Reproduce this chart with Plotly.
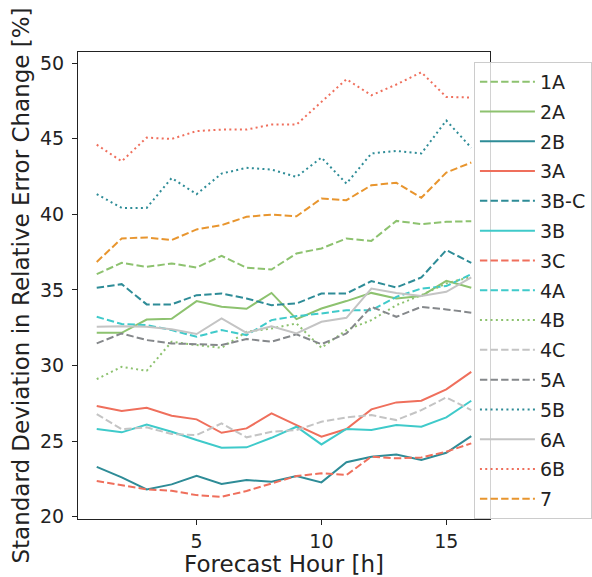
import plotly.graph_objects as go

hours = list(range(1, 17))

s_1A = [36.04, 36.79, 36.52, 36.75, 36.48, 37.25, 36.46, 36.35, 37.41, 37.74, 38.40, 38.24, 39.56, 39.35, 39.50, 39.54]
s_2A = [32.16, 32.16, 33.04, 33.09, 34.26, 33.88, 33.75, 34.80, 33.07, 33.77, 34.26, 34.80, 34.43, 34.59, 35.60, 35.14]
s_2B = [23.30, 22.60, 21.81, 22.14, 22.71, 22.16, 22.43, 22.31, 22.69, 22.27, 23.60, 23.97, 24.12, 23.75, 24.23, 25.33]
s_3A = [27.32, 26.99, 27.20, 26.68, 26.44, 25.55, 25.84, 26.83, 26.06, 25.29, 25.80, 27.10, 27.56, 27.67, 28.42, 29.58]
s_3BC = [35.14, 35.38, 34.04, 34.04, 34.65, 34.76, 34.43, 33.99, 34.10, 34.76, 34.76, 35.58, 35.16, 35.82, 37.63, 36.79]
s_3B = [25.80, 25.58, 26.10, 25.62, 25.07, 24.56, 24.59, 25.22, 25.95, 24.78, 25.80, 25.73, 26.06, 25.95, 26.57, 27.67]
s_3C = [22.36, 22.10, 21.81, 21.72, 21.43, 21.32, 21.70, 22.20, 22.69, 22.87, 22.76, 23.97, 23.86, 23.92, 24.30, 24.85]
s_4A = [33.22, 32.74, 32.67, 32.34, 31.90, 32.34, 32.01, 33.00, 33.27, 33.44, 33.66, 33.66, 34.54, 35.09, 35.25, 36.04]
s_4B = [29.10, 29.91, 29.65, 31.57, 31.35, 31.17, 32.23, 32.45, 32.78, 31.17, 32.34, 33.00, 33.99, 34.65, 35.43, 35.86]
s_4C = [26.79, 25.78, 25.91, 25.47, 25.40, 26.17, 25.25, 25.62, 25.73, 26.28, 26.57, 26.72, 26.39, 27.05, 27.89, 27.05]
s_5A = [31.46, 32.12, 31.68, 31.46, 31.41, 31.35, 31.75, 31.57, 32.06, 31.41, 32.12, 33.88, 33.22, 33.88, 33.71, 33.49]
s_5B = [41.33, 40.42, 40.42, 42.40, 41.33, 42.69, 43.07, 42.96, 42.47, 43.75, 42.03, 44.02, 44.19, 44.02, 46.20, 44.40]
s_6A = [32.56, 32.60, 32.56, 32.40, 32.08, 33.11, 32.16, 32.60, 32.12, 32.89, 33.15, 35.09, 34.80, 34.59, 34.87, 35.82]
s_6B = [44.60, 43.50, 45.07, 44.98, 45.50, 45.60, 45.60, 45.93, 45.93, 47.43, 48.93, 47.87, 48.58, 49.39, 47.76, 47.72]
s_7 = [36.85, 38.40, 38.47, 38.29, 39.00, 39.28, 39.83, 39.98, 39.87, 41.04, 40.93, 41.92, 42.08, 41.09, 42.76, 43.42]

names = ["1A", "2A", "2B", "3A", "3B-C", "3B", "3C", "4A", "4B", "4C", "5A", "5B", "6A", "6B", "7"]
series = [s_1A, s_2A, s_2B, s_3A, s_3BC, s_3B, s_3C, s_4A, s_4B, s_4C, s_5A, s_5B, s_6A, s_6B, s_7]

GREEN = "#8dc26f"
TEAL = "#2e8c97"
SALMON = "#ef6f5c"
TURQ = "#3fcaca"
LGRAY = "#c4c4c4"
GRAY = "#85888b"
ORANGE = "#e8952e"
DASH = "7.4px,3.2px"
DOT = "2px,3.3px"

colors = [GREEN, GREEN, TEAL, SALMON, TEAL, TURQ, SALMON, TURQ, GREEN, LGRAY, GRAY, TEAL, LGRAY, SALMON, ORANGE]
dashes = [DASH, "solid", "solid", "solid", DASH, "solid", DASH, DASH, DOT, DASH, DASH, DOT, "solid", DOT, DASH]

fig = go.Figure()
for n, s, c, d in zip(names, series, colors, dashes):
    fig.add_trace(go.Scatter(x=hours, y=s, mode="lines", name=n, legendgroup=n,
                             line=dict(color=c, width=2, dash=d)))

FONT = "DejaVu Sans"
fig.update_layout(
    width=592, height=577,
    margin=dict(l=78, r=102, t=52, b=58, autoexpand=False),
    paper_bgcolor="white", plot_bgcolor="white",
    font=dict(family=FONT, size=19, color="#222"),
    showlegend=True,
    legend=dict(x=0.961, y=0.979, xanchor="left", yanchor="top",
                bgcolor="rgba(255,255,255,0.8)", bordercolor="#cccccc", borderwidth=1,
                font=dict(family=FONT, size=19, color="#222"), tracegroupgap=2.1,
                itemwidth=55, maxheight=577),
    xaxis=dict(range=[0.25, 16.75], tickvals=[5, 10, 15], showgrid=False, zeroline=False,
               showline=True, linecolor="#222", linewidth=1, mirror=True, automargin=False,
               ticks="outside", ticklen=5, tickcolor="#222",
               title=dict(text="Forecast Hour [h]", font=dict(size=23), standoff=5)),
    yaxis=dict(range=[19.85, 50.73], tickvals=[20, 25, 30, 35, 40, 45, 50], showgrid=False, zeroline=False,
               showline=True, linecolor="#222", linewidth=1, mirror=True, automargin=False,
               ticks="outside", ticklen=5, tickcolor="#222", ticklabelstandoff=4,
               title=dict(text="Standard Deviation in Relative Error Change [%]", font=dict(size=23), standoff=3)),
)

fig.write_html("out.html", config={"displayModeBar": False},
               post_script="document.body.style.margin='0px';document.body.style.overflow='hidden';")
